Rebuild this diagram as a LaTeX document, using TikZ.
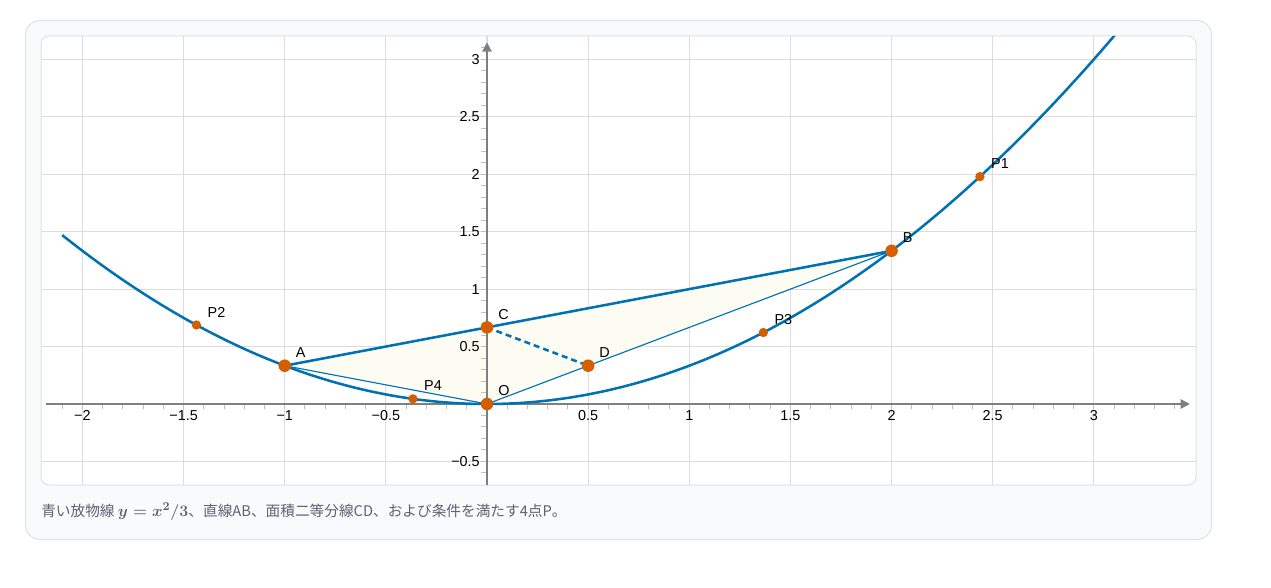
\documentclass[tikz,border=0pt]{standalone}
\usepackage{fontspec}
\setmainfont{Liberation Sans}
\newfontfamily\jpfont{Noto Sans CJK JP}
\usetikzlibrary{arrows.meta}
\definecolor{cblue}{HTML}{0072B2}
\definecolor{corange}{HTML}{D55E00}
\definecolor{gridc}{HTML}{DCDCDC}
\definecolor{axisc}{HTML}{7F7F7F}
\definecolor{tickc}{HTML}{C0C0C0}
\definecolor{cardfill}{HTML}{F8FAFC}
\definecolor{cardline}{HTML}{DDE2EA}
\definecolor{fillc}{HTML}{FCFCF3}
\definecolor{capc}{HTML}{5B6472}
\tikzset{
  gridline/.style={gridc, line width=0.8pt},
  axisline/.style={axisc, line width=1.1pt, -{Triangle[length=7pt,width=7pt]}},
  tickline/.style={tickc, line width=0.75pt},
  axlab/.style={inner sep=0pt, font=\fontsize{10.8}{12}\selectfont},
  curve/.style={cblue, line width=1.9pt},
  thinline/.style={cblue, line width=0.85pt},
  dashline/.style={cblue, line width=1.9pt, dash pattern=on 4.5pt off 3pt},
  bigdot/.style={fill=corange},
  ptlab/.style={anchor=west, inner sep=0pt, xshift=8.25pt, yshift=9.75pt, font=\fontsize{10.8}{12}\selectfont}
}
\begin{document}
\begin{tikzpicture}[x=0.75pt,y=-0.75pt]
\useasboundingbox (0,0) rectangle (1271,588);
\draw[cardline, fill=cardfill, line width=0.75pt, rounded corners=11pt] (25.5,20.5) rectangle (1211.5,539.5);
\draw[cardline, fill=white, line width=0.75pt, rounded corners=6pt] (41,36) rectangle (1196,485);
\begin{scope}
\clip[rounded corners=6pt] (41,36) rectangle (1196,485);
\begin{scope}[shift={(487,404)}, x=151.72pt, y=86.17pt]
  \coordinate (A) at (-1,1/3);
  \coordinate (B) at (2,4/3);
  \coordinate (C) at (0,2/3);
  \coordinate (D) at (0.5,1/3);
  \coordinate (O) at (0,0);
  \coordinate (P1) at ({(1+sqrt(15))/2},{((1+sqrt(15))/2)^2/3});
  \coordinate (P2) at ({(1-sqrt(15))/2},{((1-sqrt(15))/2)^2/3});
  \coordinate (P3) at ({(1+sqrt(3))/2},{((1+sqrt(3))/2)^2/3});
  \coordinate (P4) at ({(1-sqrt(3))/2},{((1-sqrt(3))/2)^2/3});
  % grid
  \foreach \g in {-2,-1.5,-1,-0.5,0,0.5,1,1.5,2,2.5,3}
    \draw[gridline] (\g,-0.72) -- (\g,3.22);
  \foreach \g in {-0.5,0.5,1,1.5,2,2.5,3}
    \draw[gridline] (-2.22,\g) -- (3.52,\g);
  % shaded triangle
  \fill[fillc] (A) -- (B) -- (O) -- cycle;
  % ticks
  \foreach \i in {-21,...,34}
    \draw[tickline] (\i/10,0) -- ++(0pt,-3.75pt);
  \foreach \i in {-6,...,31}
    \draw[tickline] (0,\i/10) -- ++(-4.5pt,0pt);
  % axes
  \draw[axisline] (-2.18,0) -- (3.475,0);
  \draw[axisline] (0,-0.72) -- (0,3.148);
  % axis labels
  \foreach \v/\t in {-2/−2,-1.5/−1.5,-1/−1,-0.5/−0.5,0.5/0.5,1/1,1.5/1.5,2/2,2.5/2.5,3/3}
    \node[axlab] at (\v,0) [yshift=-8.6pt] {\t};
  \foreach \v/\t in {-0.5/−0.5,0.5/0.5,1/1,1.5/1.5,2/2,2.5/2.5,3/3}
    \node[axlab, anchor=east] at (0,\v) [xshift=-5.25pt] {\t};
  % parabola
  \draw[curve] plot[domain=-2.1:3.12, samples=120, smooth] (\x,{\x*\x/3});
  % lines
  \draw[thinline] (A) -- (O);
  \draw[thinline] (O) -- (B);
  \draw[thinline] (A) -- (B);
  \draw[curve] (A) -- (B);
  \draw[dashline] (C) -- (D);
  % points
  \foreach \p in {A,B,C,D,O}
    \fill[bigdot] (\p) circle[radius=4.7pt];
  \foreach \p in {P1,P2,P3,P4}
    \fill[bigdot] (\p) circle[radius=3.5pt];
  % point labels
  \foreach \p in {A,B,C,D,O,P1,P2,P3,P4}
    \node[ptlab] at (\p) {\p};
\end{scope}
\end{scope}
\node[anchor=west, inner sep=0pt, text=capc, font=\fontsize{11}{12}\selectfont] (cap) at (41,511.5)
  {\jpfont 青い放物線 {\fontsize{13}{14}\selectfont\boldmath$y=x^2/3$}、直線AB、面積二等分線CD、および条件を満たす4点P。};
\end{tikzpicture}
\end{document}
